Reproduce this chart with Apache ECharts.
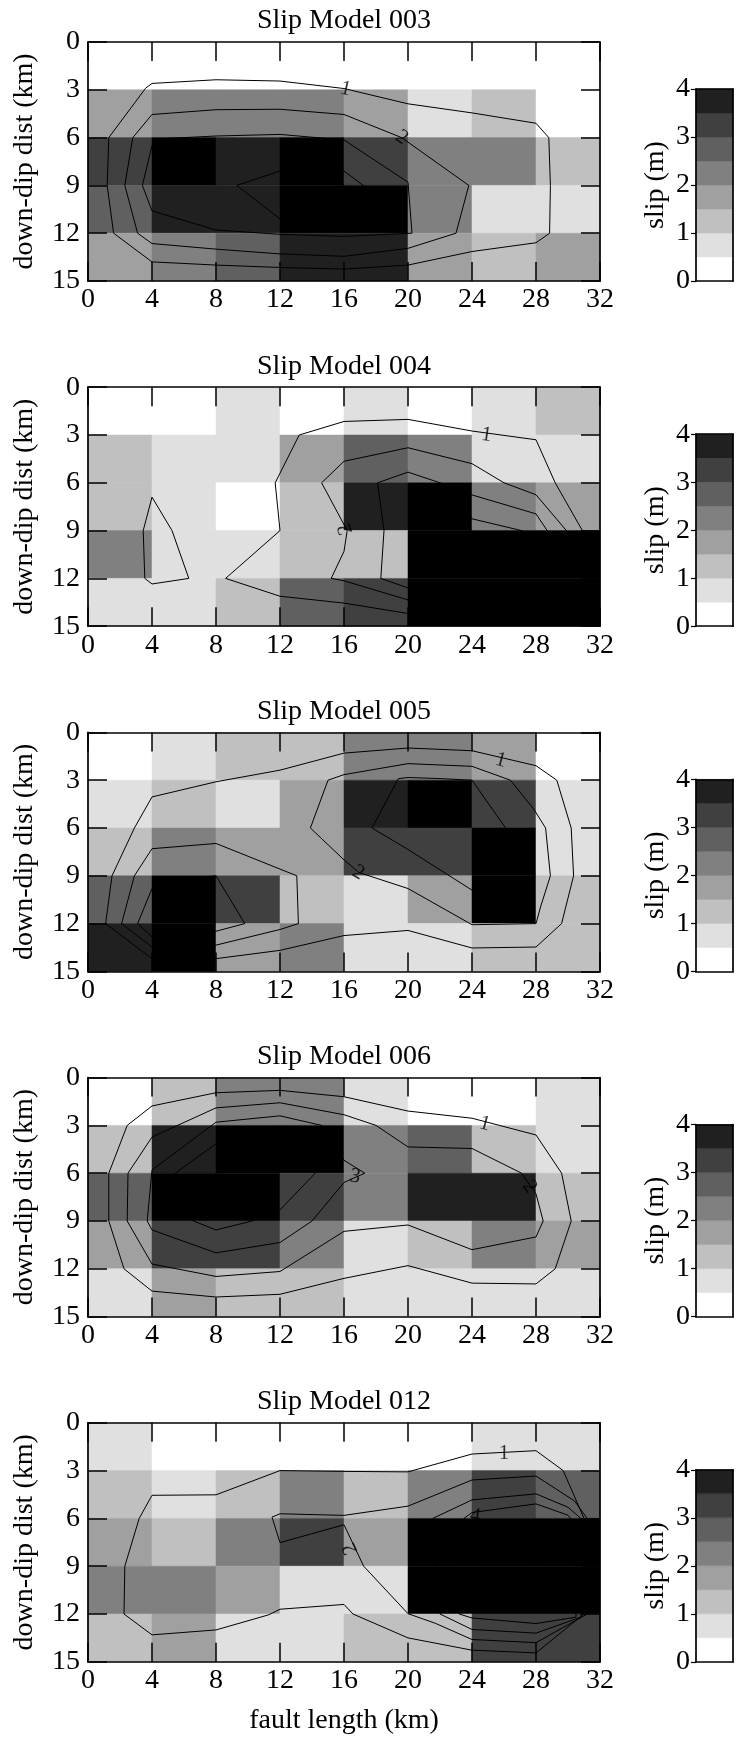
<!DOCTYPE html>
<html>
<head>
<meta charset="utf-8">
<script src="https://cdn.jsdelivr.net/npm/echarts@6/dist/echarts.min.js"></script>
<style>
  html, body { margin: 0; padding: 0; background: #ffffff; }
  #chart { width: 737px; height: 1737px; }
</style>
</head>
<body>
<div id="chart"></div>
<script>
// Fault plane: 8 subfaults along strike (4 km each) by 5 down dip (3 km each)
const faultLengthTicks = [0, 4, 8, 12, 16, 20, 24, 28, 32];
const downDipTicks = [0, 3, 6, 9, 12, 15];

// Slip colour scale (m): eight grey bands from 0 to 4, black above 4
const slipBandEdges = [0, 0.5, 1, 1.5, 2, 2.5, 3, 3.5, 4];
const slipBandColors = ['#ffffff', '#e0e0e0', '#c0c0c0', '#a0a0a0', '#808080', '#606060', '#404040', '#202020'];
const slipOverColor = '#000000';
const slipTicks = [0, 1, 2, 3, 4];

const modelNames = ['Slip Model 003', 'Slip Model 004', 'Slip Model 005', 'Slip Model 006', 'Slip Model 012'];

// Subfault slip (m), rows from the top edge (0 km) down to 15 km
const slip003 = [
  [0.3, 0.2, 0.3, 0.4, 0.3, 0.2, 0.1, 0.2],
  [1.8, 2.3, 2.4, 2.2, 1.9, 0.8, 1.3, 0.4],
  [3.3, 4.3, 3.8, 4.5, 3.4, 2.2, 2.1, 1.4],
  [2.7, 3.9, 3.7, 4.6, 4.2, 2.3, 0.9, 0.7],
  [1.7, 2.1, 2.6, 3.6, 3.6, 1.6, 1.2, 1.6]
];
const slip004 = [
  [0.2, 0.3, 0.7, 0.4, 0.8, 0.4, 0.6, 1.1],
  [1.2, 0.8, 0.9, 1.8, 2.9, 2.4, 0.9, 0.7],
  [1.1, 0.6, 0.4, 1.4, 3.9, 4.4, 2.2, 1.7],
  [2.1, 0.8, 0.9, 1.3, 1.4, 4.6, 4.8, 4.5],
  [0.7, 0.6, 1.2, 2.7, 3.3, 4.9, 4.7, 4.4]
];
const slip005 = [
  [0.2, 0.7, 1.3, 1.2, 2.1, 2.3, 1.8, 0.4],
  [0.8, 1.1, 0.9, 1.9, 3.6, 4.2, 3.4, 0.7],
  [1.4, 2.2, 1.6, 1.8, 3.3, 3.1, 4.3, 0.9],
  [2.8, 4.4, 3.3, 1.2, 0.6, 1.7, 4.5, 1.3],
  [3.8, 4.3, 1.7, 2.4, 0.8, 0.7, 1.2, 1.1]
];
const slip006 = [
  [0.3, 1.2, 2.1, 2.2, 0.8, 0.2, 0.3, 0.6],
  [1.3, 3.9, 4.4, 4.2, 2.3, 2.6, 1.1, 0.9],
  [2.7, 4.5, 4.3, 3.4, 2.4, 3.8, 3.6, 1.4],
  [1.9, 3.3, 3.2, 2.2, 0.7, 1.2, 2.1, 1.6],
  [0.8, 1.6, 1.3, 1.2, 0.6, 0.7, 0.6, 0.9]
];
const slip012 = [
  [0.6, 0.2, 0.3, 0.4, 0.3, 0.2, 0.8, 0.7],
  [1.3, 0.8, 1.2, 2.2, 1.4, 2.1, 3.3, 2.9],
  [1.7, 1.3, 2.3, 3.1, 1.8, 4.6, 5.0, 4.5],
  [2.1, 2.2, 1.7, 0.9, 0.8, 4.4, 4.8, 4.3],
  [1.2, 1.6, 0.9, 0.7, 1.1, 1.4, 3.2, 3.4]
];

// Slip contours, [fault length km, down-dip km]
const contours003 = [
  [[1.3,6.0],[3.6,2.9],[4,2.6],[8,2.37],[12,2.45],[16,2.92],[20,3.88],[24,4.45],[28,5.1],[28.8,6.0],[28.9,9.0],[28.85,12.0],[28,12.6],[24,13.15],[20,14.0],[16,14.25],[12,14.15],[8,14.0],[4,13.8],[1.6,12.0],[1.2,9.0],[1.3,6.0]],
  [[2.8,6.0],[4,4.55],[8,4.25],[12,4.22],[16,4.55],[19.6,6.0],[23.8,9.0],[23,12.0],[20,12.95],[16,13.45],[12,13.3],[8,13.0],[4,12.65],[3.1,12.0],[2.3,9.0],[2.8,6.0]],
  [[3.4,9.0],[4,6.5],[5,6.05],[8,5.9],[12,5.8],[16,6.15],[20,8.8],[20.25,12.0],[16,12.2],[12,12.07],[8,11.8],[4,10.6],[3.4,9.0]],
  [[9.3,9.0],[12,8.1],[16,8.1],[17.2,9.0],[18.8,10.5],[18,11.7],[16,11.9],[12,11.1],[9.3,9.0]]
];
const contours004 = [
  [[20.5,15.0],[20,14.2],[16,13.55],[12,13.12],[8.6,12.0],[12,9.0],[11.7,6.0],[13.2,3.0],[16,2.15],[20,2.02],[24,2.75],[28,3.3],[29.2,6.0],[30.9,9.0],[32,10.2]],
  [[21,13.6],[20,13.35],[16,12.15],[15.2,12.0],[16,10.3],[16.2,9.0],[14.6,6.0],[16,4.65],[20,3.8],[24,4.8],[26,6.0],[28,6.75],[29.9,9.0],[31,10.2]],
  [[21,12.9],[20,12.6],[18.3,12.0],[18.5,9.0],[18.1,6.0],[20,5.33],[22,6.0],[24,6.76],[28,7.95],[28.7,9.0],[29.5,10.0]],
  [[22,7.2],[24,8.26],[27.1,9.0],[28,9.5]],
  [[4,6.9],[5.25,9.0],[6.3,12.0],[4,12.35],[3.55,12.0],[3.45,9.0],[4,6.9]]
];
const contours005 = [
  [[1.1,12.0],[1.5,9.0],[2.9,6.0],[4,4.05],[8,3.1],[12,2.37],[16,1.3],[20,0.98],[24,1.15],[28,2.09],[29.3,3.0],[30.2,6.0],[30.35,9.0],[29.6,12.0],[28,13.47],[24,13.53],[20,12.43],[16,12.75],[12,13.68],[8,14.2],[6,14.25],[4,14.2],[1.1,12.0]],
  [[2.1,12.0],[2.9,9.0],[4,7.3],[8,6.97],[13.05,9.0],[13.15,12.0],[12,12.37],[8,13.35],[6,13.45],[4,13.47],[2.1,12.0]],
  [[3.1,12.0],[4,9.8],[6,9.2],[8,9.0],[9.8,12.0],[8,12.48],[6,12.7],[4,12.84],[3.1,12.0]],
  [[15,3.0],[16,2.65],[20,1.96],[24,2.13],[26.4,3.0],[27.85,4.8],[28.6,6.0],[28.9,9.0],[28.3,10.9],[28,12.0],[24,12.07],[20,9.8],[16.95,8.8],[16,8.0],[13.9,6.0],[15,3.0]],
  [[19.4,2.9],[20,2.83],[22,2.9],[24,3.0],[26.1,6.0],[27,9.0],[26,11.0],[24,9.9],[20,7.35],[17.75,6.0],[19.4,2.9]]
];
const contours006 = [
  [[1.3,6.0],[2.45,3.0],[4,1.78],[8,0.95],[12,0.8],[16,1.2],[20,2.1],[24,2.55],[28,3.6],[29.6,6.0],[30.2,9.0],[29.2,12.0],[28,12.95],[24,12.9],[20,11.8],[16,12.6],[12,13.6],[8,13.77],[4,13.4],[2.25,12.0],[1.3,9.0],[1.3,6.0]],
  [[2.45,9.0],[2.5,6.0],[4,3.73],[8,1.9],[12,1.58],[16,2.33],[18,3.0],[20,4.35],[24,4.45],[27.1,6.0],[28,7.3],[28.45,9.0],[28,10.0],[24,10.8],[20,9.25],[16,9.65],[12,12.17],[8,12.48],[4,11.7],[2.45,9.0]],
  [[3.7,9.0],[4,5.8],[8,2.8],[12,2.4],[14.6,3.0],[16,5.19],[17.3,6.0],[16,6.58],[14,9.0],[12,10.35],[8,11.0],[4,9.56],[3.7,9.0]],
  [[5.46,6.0],[8,4.15],[12,3.6],[14.5,5.0],[14.2,6.0],[12,8.3],[10.25,9.0],[8,9.56],[6.6,9.0],[5,7.5],[5.46,6.0]]
];
const contours012 = [
  [[2.3,9.0],[3.2,6.0],[4,4.55],[8,4.52],[12,3.0],[16,3.05],[20,3.08],[24,1.96],[28,1.75],[29.7,3.0],[31,6.0],[31.5,9.0],[31,12.0],[28,14.44],[24,14.27],[20,13.5],[16.56,12.0],[16,11.4],[12,11.7],[11.3,12.05],[8,13.0],[4,13.31],[2.25,12.0],[2.3,9.0]],
  [[11.5,5.92],[12,5.71],[16,5.81],[20,5.23],[24,3.59],[28,3.34],[30.4,4.9],[31.2,6.0],[31.5,9.0],[31.2,12.0],[28,13.8],[24,13.6],[21.7,12.58],[20,11.98],[17.23,9.0],[16,6.4],[12,7.52],[11.5,5.92]],
  [[21.55,6.0],[24,4.84],[28,4.46],[30,5.3],[30.8,6.0],[31,9.0],[30.8,12.2],[28,13.2],[24,12.97],[22,12.0],[21.55,6.0]],
  [[23.5,6.0],[24,5.63],[28,5.09],[30,5.8],[30.4,6.3],[30.5,9.0],[30.5,12.2],[28,12.6],[24,12.25],[23.2,12.0],[23.5,6.0]]
];

// Contour level labels: [fault length km, down-dip km, text]
const contourLabels003 = [[16.1, 2.95, '1'], [19.6, 6.0, '2']];
const contourLabels004 = [[24.9, 3.0, '1'], [16.1, 8.9, '2']];
const contourLabels005 = [[25.8, 1.75, '1'], [16.9, 8.8, '2']];
const contourLabels006 = [[24.8, 2.9, '1'], [16.7, 6.2, '3'], [27.6, 6.85, '2']];
const contourLabels012 = [[26.0, 1.95, '1'], [16.4, 7.9, '2'], [24.2, 5.85, '4']];
// label angles follow the local direction of each contour
const contourLabelAngles = [[-13, -35], [-8, 110], [-15, -30], [-15, -10, -55], [0, 115, -10]];

const panels = [
  { name: modelNames[0], slip: slip003, contours: contours003, labels: contourLabels003 },
  { name: modelNames[1], slip: slip004, contours: contours004, labels: contourLabels004 },
  { name: modelNames[2], slip: slip005, contours: contours005, labels: contourLabels005 },
  { name: modelNames[3], slip: slip006, contours: contours006, labels: contourLabels006 },
  { name: modelNames[4], slip: slip012, contours: contours012, labels: contourLabels012 }
];

// ---- layout ----
const FONT = 'Liberation Serif';
const plotLeft = 88, plotWidth = 512, plotHeight = 239;
const firstTop = 42, panelStep = 345.2;
const barLeft = 696, barWidth = 37, barOffset = 47;

function slipColor(v) {
  for (let i = 0; i < slipBandColors.length; i++) {
    if (v < slipBandEdges[i + 1]) return slipBandColors[i];
  }
  return slipOverColor;
}

function cellData(rows) {
  const out = [];
  rows.forEach((row, r) => row.forEach((v, c) => {
    out.push([faultLengthTicks[c], faultLengthTicks[c + 1], downDipTicks[r], downDipTicks[r + 1], v]);
  }));
  return out;
}

const colorbarData = slipBandColors.map((c, i) =>
  [0, 1, slipBandEdges[i], slipBandEdges[i + 1], (slipBandEdges[i] + slipBandEdges[i + 1]) / 2]);

function renderCell(params, api) {
  const a = api.coord([api.value(0), api.value(2)]);
  const b = api.coord([api.value(1), api.value(3)]);
  const fill = slipColor(api.value(4));
  return {
    type: 'rect',
    shape: {
      x: Math.min(a[0], b[0]), y: Math.min(a[1], b[1]),
      width: Math.abs(b[0] - a[0]), height: Math.abs(b[1] - a[1])
    },
    style: { fill: fill, stroke: fill, lineWidth: 0.5 }
  };
}

const frameLine = { show: true, onZero: false, lineStyle: { color: '#000', width: 1.7 } };
const innerTick = { show: true, inside: true, length: 19, lineStyle: { color: '#000', width: 1.5 } };
const tickFont = { color: '#000', fontFamily: FONT, fontSize: 28 };
const nameFont = { color: '#000', fontFamily: FONT, fontSize: 28 };
const titleFont = { color: '#000', fontFamily: FONT, fontSize: 28 };

const grids = [], xAxes = [], yAxes = [], series = [];

panels.forEach((p, i) => {
  const top = firstTop + panelStep * i;
  const g = grids.length;
  grids.push({ left: plotLeft, top: top, width: plotWidth, height: plotHeight, containLabel: false, outerBoundsMode: 'none' });
  grids.push({ left: barLeft, top: top + barOffset, width: barWidth, height: plotHeight - barOffset, containLabel: false, outerBoundsMode: 'none' });

  const isLast = i === panels.length - 1;
  const xBase = { type: 'value', min: faultLengthTicks[0], max: faultLengthTicks[faultLengthTicks.length - 1], interval: 4, splitLine: { show: false }, z: 10 };
  xAxes.push(Object.assign({}, xBase, {
    gridIndex: g, position: 'bottom', axisLine: frameLine, axisTick: innerTick,
    axisLabel: Object.assign({ margin: 5, showMinLabel: true, showMaxLabel: true }, tickFont),
    name: isLast ? 'fault length (km)' : '', nameLocation: 'middle', nameGap: 45,
    nameTextStyle: nameFont, nameMoveOverlap: false
  }));
  xAxes.push(Object.assign({}, xBase, {
    gridIndex: g, position: 'top', axisLine: frameLine, axisTick: innerTick,
    axisLabel: { show: false },
    name: p.name, nameLocation: 'middle', nameGap: 7,
    nameTextStyle: titleFont, nameMoveOverlap: false
  }));
  const barX = { type: 'value', min: 0, max: 1, gridIndex: g + 1, axisLine: frameLine, axisTick: { show: false }, axisLabel: { show: false }, splitLine: { show: false }, z: 10 };
  xAxes.push(Object.assign({}, barX, { position: 'bottom' }));
  xAxes.push(Object.assign({}, barX, { position: 'top' }));

  const yBase = { type: 'value', inverse: true, min: downDipTicks[0], max: downDipTicks[downDipTicks.length - 1], interval: 3, splitLine: { show: false }, z: 10 };
  yAxes.push(Object.assign({}, yBase, {
    gridIndex: g, position: 'left', axisLine: frameLine, axisTick: innerTick,
    axisLabel: Object.assign({ margin: 8, showMinLabel: true, showMaxLabel: true }, tickFont),
    name: 'down-dip dist (km)', nameLocation: 'middle', nameRotate: 90, nameGap: 49,
    nameTextStyle: nameFont, nameMoveOverlap: false
  }));
  yAxes.push(Object.assign({}, yBase, {
    gridIndex: g, position: 'right', axisLine: frameLine, axisTick: innerTick, axisLabel: { show: false }
  }));
  yAxes.push({
    type: 'value', gridIndex: g + 1, position: 'left', min: slipTicks[0], max: slipTicks[slipTicks.length - 1], interval: 1,
    axisLine: frameLine, axisTick: { show: true, inside: false, length: 5, lineStyle: { color: '#000', width: 1.2 } },
    axisLabel: Object.assign({ margin: 6, showMinLabel: true, showMaxLabel: true }, tickFont),
    splitLine: { show: false }, z: 10,
    name: 'slip (m)', nameLocation: 'middle', nameRotate: 90, nameGap: 26,
    nameTextStyle: nameFont, nameMoveOverlap: false
  });
  yAxes.push({
    type: 'value', gridIndex: g + 1, position: 'right', min: 0, max: 4,
    axisLine: frameLine, axisTick: { show: false }, axisLabel: { show: false }, splitLine: { show: false }, z: 10
  });

  const ax = 4 * i;
  // subfault slip cells
  series.push({
    type: 'custom', xAxisIndex: ax, yAxisIndex: ax, renderItem: renderCell,
    data: cellData(p.slip), encode: { x: [0, 1], y: [2, 3] }, silent: true, z: 1
  });
  // colour scale
  series.push({
    type: 'custom', xAxisIndex: ax + 2, yAxisIndex: ax + 2, renderItem: renderCell,
    data: colorbarData, encode: { x: [0, 1], y: [2, 3] }, silent: true, z: 1
  });
  // contour lines
  p.contours.forEach(line => {
    series.push({
      type: 'line', xAxisIndex: ax, yAxisIndex: ax, data: line,
      symbol: 'none', smooth: false, silent: true, z: 3,
      lineStyle: { color: '#000', width: 1 }
    });
  });
  // contour level labels
  series.push({
    type: 'scatter', xAxisIndex: ax, yAxisIndex: ax, symbolSize: 1, silent: true, z: 4,
    itemStyle: { color: 'rgba(0,0,0,0)' },
    data: p.labels.map((l, k) => ({
      name: l[2], value: [l[0], l[1]],
      label: { rotate: contourLabelAngles[i][k] }
    })),
    label: { show: true, position: 'inside', formatter: '{b}', color: '#000', fontFamily: FONT, fontSize: 21 }
  });
});

const chart = echarts.init(document.getElementById('chart'), null, { renderer: 'canvas' });
chart.setOption({
  animation: false,
  backgroundColor: '#ffffff',
  grid: grids,
  xAxis: xAxes,
  yAxis: yAxes,
  series: series
});
</script>
</body>
</html>
